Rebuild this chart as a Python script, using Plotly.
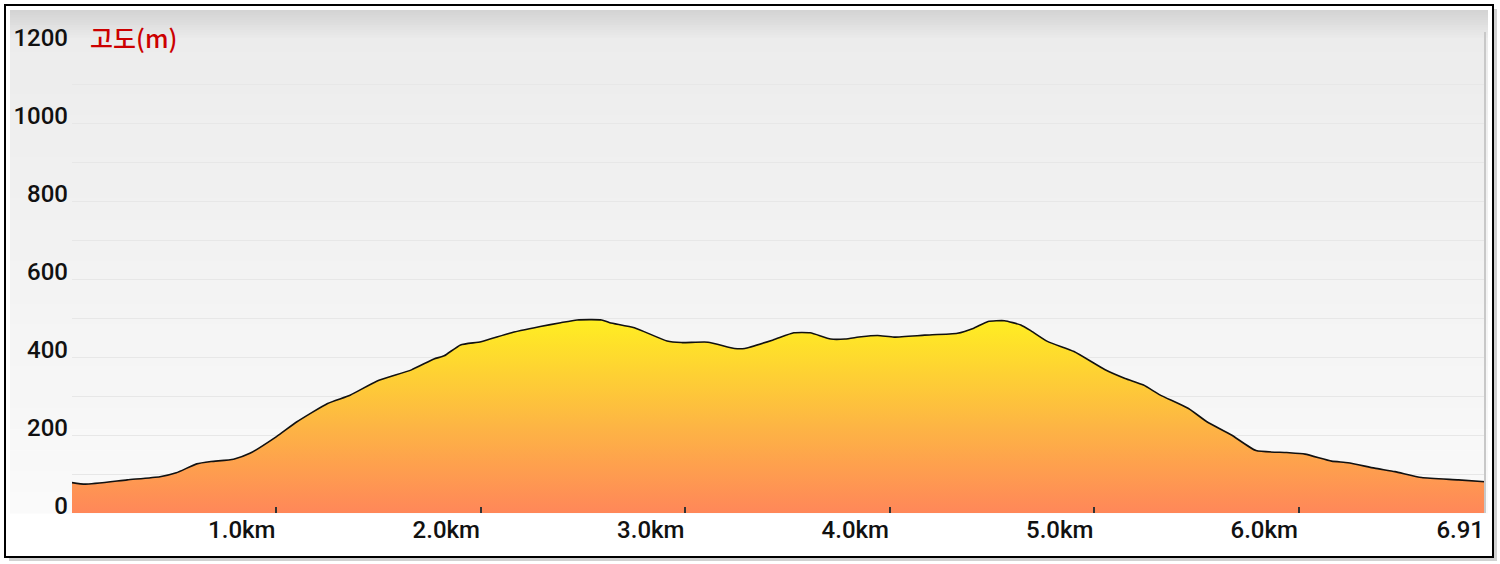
import plotly.graph_objects as go

# ---- data ----
distance_km = [0, 0.065, 0.27, 0.43, 0.51, 0.61, 0.68, 0.79, 0.87, 1.00, 1.10, 1.25, 1.36, 1.49,
               1.66, 1.77, 1.82, 1.90, 2.00, 2.14, 2.29, 2.39, 2.47, 2.59, 2.63, 2.75, 2.91, 2.98,
               3.11, 3.24, 3.29, 3.43, 3.53, 3.61, 3.71, 3.78, 3.86, 3.94, 4.02, 4.17, 4.33, 4.41,
               4.48, 4.56, 4.64, 4.69, 4.77, 4.90, 5.05, 5.15, 5.24, 5.32, 5.46, 5.55, 5.67, 5.79,
               5.94, 6.03, 6.16, 6.24, 6.37, 6.47, 6.60, 6.78, 6.91]
elevation_m = [78, 74, 85, 93, 103, 126, 132, 138, 153, 196, 234, 281, 302, 338,
               367, 395, 403, 431, 439, 461, 478, 488, 495, 495, 488, 475, 441, 437,
               438, 422, 422, 444, 462, 462, 446, 446, 452, 455, 451, 456, 461, 474,
               491, 493, 482, 467, 440, 414, 368, 345, 328, 303, 268, 234, 200, 160,
               155, 151, 133, 129, 115, 106, 91, 85, 80]
x_tick_vals = [1, 2, 3, 4, 5, 6, 6.91]
x_tick_text = ["1.0km", "2.0km", "3.0km", "4.0km", "5.0km", "6.0km", "6.91"]
y_tick_vals = [0, 200, 400, 600, 800, 1000, 1200]
y_tick_text = ["0", "200", "400", "600", "800", "1000", "1200"]
title_text = "고도(m)"

W, H = 1500, 564
L, R, T, B = 72, 15, 45, 51
PW, PH = W - L - R, H - T - B


def px(xp):
    return (xp - L) / PW


def py(yp):
    return (H - B - yp) / PH


fig = go.Figure()
fig.add_trace(go.Scatter(
    x=distance_km, y=elevation_m, mode="lines", fill="tozeroy",
    line=dict(color="#111111", width=1.6, shape="spline", smoothing=0.5),
    fillgradient=dict(type="vertical", start=0, stop=495,
                      colorscale=[[0, "#FF8759"], [0.45, "#FDB544"], [1, "#FFEE22"]]),
    hoverinfo="skip", showlegend=False,
))
# helper trace for the overlay grid axis
fig.add_trace(go.Scatter(x=[0], y=[None], yaxis="y2", mode="lines",
                         showlegend=False, hoverinfo="skip"))

shapes = []
# outer frame shadow + frame
shapes.append(dict(type="rect", xref="paper", yref="paper", x0=px(9), x1=px(1497), y0=py(561), y1=py(9),
                   line=dict(width=0), fillcolor="rgba(0,0,0,0.18)", layer="below"))
shapes.append(dict(type="rect", xref="paper", yref="paper", x0=px(5), x1=px(1493), y0=py(557), y1=py(5),
                   line=dict(color="#000000", width=2), fillcolor="#FFFFFF", layer="below"))
# gray panel with vertical gradient (stepped)
n = 24
top, bot = 10, 513
for i in range(n):
    y0 = top + (bot - top) * i / n
    y1 = top + (bot - top) * (i + 1) / n
    t = i / (n - 1)
    g = int(236 + (250 - 236) * t)
    shapes.append(dict(type="rect", xref="paper", yref="paper", x0=px(10), x1=px(1488),
                       y0=py(y1 + 0.5), y1=py(y0), line=dict(width=0),
                       fillcolor=f"rgb({g},{g},{g})", layer="below"))
# darker top band
m = 12
for i in range(m):
    y0 = 10 + 30 * i / m
    y1 = 10 + 30 * (i + 1) / m
    t = i / (m - 1)
    g = int(212 + (236 - 212) * t)
    shapes.append(dict(type="rect", xref="paper", yref="paper", x0=px(10), x1=px(1488),
                       y0=py(y1 + 0.5), y1=py(y0), line=dict(width=0),
                       fillcolor=f"rgb({g},{g},{g})", layer="below"))
# plot area right border
shapes.append(dict(type="line", xref="paper", yref="paper", x0=1.0, x1=1.0, y0=0, y1=py(32),
                   line=dict(color="#C8C8C8", width=2), layer="above"))

fig.update_layout(
    width=W, height=H,
    margin=dict(l=L, r=R, t=T, b=B),
    paper_bgcolor="#FFFFFF",
    plot_bgcolor="#F4F4F4",
    shapes=shapes,
    font=dict(family="Roboto, 'Noto Sans', sans-serif", color="#111111"),
    xaxis=dict(range=[0, 6.91], tickvals=x_tick_vals, ticktext=x_tick_text,
               ticklabelposition="outside left", ticks="inside", ticklen=6, tickcolor="#333333",
               tickwidth=2, showgrid=False, zeroline=False, showline=False,
               tickfont=dict(size=24, color="#111111", weight=500), fixedrange=True),
    yaxis=dict(range=[0, 1200], tickvals=y_tick_vals, ticktext=y_tick_text,
               ticklabelposition="outside top", ticks="", showgrid=True, gridcolor="#DADADA",
               gridwidth=1.2, zeroline=False, showline=False,
               minor=dict(dtick=100, tick0=0, showgrid=True, gridcolor="#DADADA", gridwidth=1.2),
               tickfont=dict(size=24, color="#111111", weight=500), ticklabelstandoff=3,
               ticklabelshift=9),
    yaxis2=dict(range=[0, 1200], overlaying="y", side="left", showticklabels=False, ticks="",
                tickvals=y_tick_vals, showgrid=True, gridcolor="rgba(255,255,255,0.35)",
                gridwidth=1.2, zeroline=False, showline=False, layer="above traces",
                minor=dict(dtick=100, tick0=0, showgrid=True, gridcolor="rgba(255,255,255,0.35)",
                           gridwidth=1.2)),
    annotations=[dict(text=title_text, xref="paper", yref="paper", x=px(88), y=py(37),
                      xanchor="left", yanchor="middle", showarrow=False,
                      font=dict(family="Noto Sans CJK KR", size=25, color="#CC0000", weight=500))],
)

fig.write_html("out.html", config={"displayModeBar": False},
               post_script="document.body.style.margin='0';document.body.style.overflow='hidden';")
